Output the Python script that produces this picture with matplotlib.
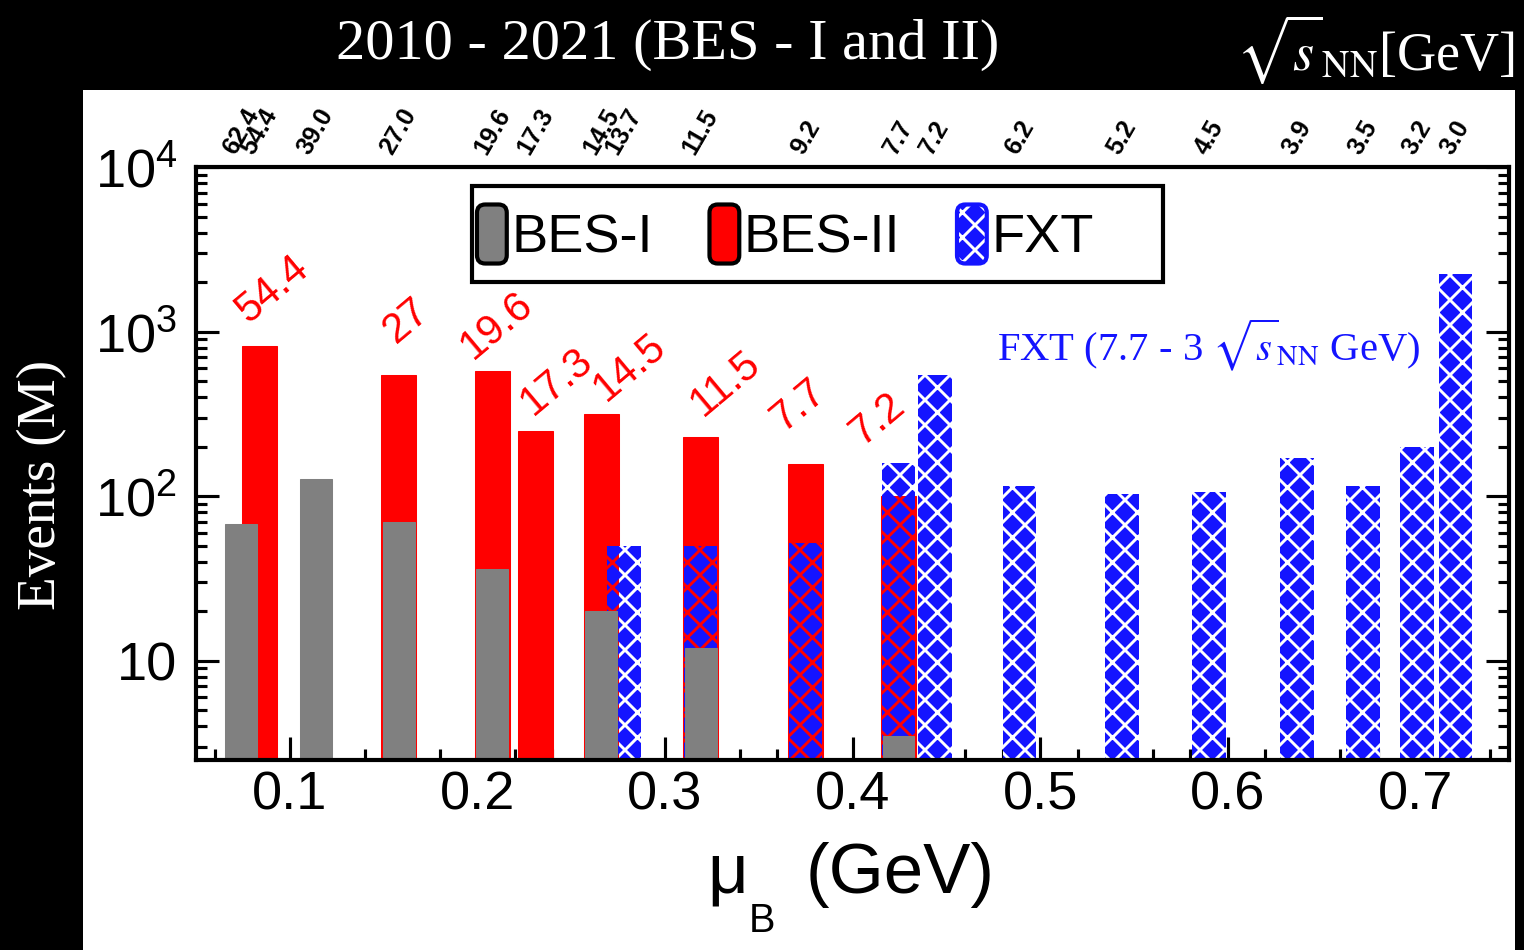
import numpy as np
import matplotlib
matplotlib.use("Agg")
import matplotlib.pyplot as plt
from matplotlib.patches import Rectangle, Patch, FancyBboxPatch
from matplotlib.legend_handler import HandlerTuple, HandlerPatch
from matplotlib.ticker import FixedLocator, LogLocator, NullFormatter

# collision energies (top axis) and the matching baryon chemical potential
energies = ["62.4", "54.4", "39.0", "27.0", "19.6", "17.3", "14.5", "13.7",
            "11.5", "9.2", "7.7", "7.2", "6.2", "5.2", "4.5", "3.9", "3.5",
            "3.2", "3.0"]
mu_b = [0.074, 0.084, 0.114, 0.158, 0.208, 0.231, 0.266, 0.278, 0.319,
        0.375, 0.4245, 0.444, 0.489, 0.5435, 0.590, 0.637, 0.672, 0.701,
        0.7215]

nan = np.nan
# events in millions
bes1 = [68, nan, 128, 70, 36, nan, 20, nan, 12, nan, 3.5,
        nan, nan, nan, nan, nan, nan, nan, nan]
bes2 = [nan, 822, nan, 548, 573, 248, 318, nan, 228, 158, 100,
        nan, nan, nan, nan, nan, nan, nan, nan]
fxt = [nan, nan, nan, nan, nan, nan, nan, 50, 50, 52, 160,
       548, 115, 103, 106, 170, 115, 198, 2240]

# red energy labels: (text, index of the bar they sit above, offset in pt)
red_labels = [("54.4", 1, (6, 27)), ("27", 3, (4, 26)), ("19.6", 4, (2, 22)),
              ("17.3", 5, (10, 24)), ("14.5", 6, (14, 22)),
              ("11.5", 8, (12, 26)), ("7.7", 9, (-3, 28)),
              ("7.2", 10, (-10, 21))]

GREY = "#808080"
RED = "#ff0000"
BLUE = "#1414ff"
YMIN, YMAX = 2.5, 1e4

plt.rcParams["font.family"] = "Liberation Sans"
plt.rcParams["mathtext.fontset"] = "stix"
plt.rcParams["hatch.linewidth"] = 1.4

DPI = 150
W, H = 1524, 950
fig = plt.figure(figsize=(W / DPI, H / DPI), dpi=DPI, facecolor="black")
fig.patches.append(Rectangle((83 / W, 0), (1515 - 83) / W, (H - 90) / H,
                             transform=fig.transFigure, facecolor="white",
                             edgecolor="none", zorder=-10))

ax = fig.add_axes([196 / W, 190 / H, 1313 / W, 593 / H])
ax.set_facecolor("white")

mu = np.array(mu_b)
b1 = np.array(bes1, dtype=float)
b2 = np.array(bes2, dtype=float)
fx = np.array(fxt, dtype=float)
m1, m2, mf = ~np.isnan(b1), ~np.isnan(b2), ~np.isnan(fx)

# BES-II collider bars
red_bars = ax.bar(mu[m2], b2[m2] - YMIN, width=0.0186, bottom=YMIN, color=RED,
                  edgecolor=RED, linewidth=0.5, zorder=2)

# FXT bars: blue diamonds with white lines on white background
fxt_bars = ax.bar(mu[mf], fx[mf] - YMIN, width=0.018, bottom=YMIN,
                  facecolor=BLUE, edgecolor="white", hatch="xx",
                  linewidth=0, zorder=3)

# where FXT sits on top of a red bar the lines show red
for fb in fxt_bars:
    x0, x1 = fb.get_x(), fb.get_x() + fb.get_width()
    for rb in red_bars:
        if rb.get_x() < x1 and rb.get_x() + rb.get_width() > x0:
            over = ax.bar(fb.get_x(), fb.get_height(), width=fb.get_width(),
                          bottom=YMIN, align="edge", facecolor=BLUE,
                          edgecolor=RED, hatch="xx", linewidth=0, zorder=3.5)
            over[0].set_clip_path(rb)

# BES-I bars in front
ax.bar(mu[m1], b1[m1] - YMIN, width=0.017, bottom=YMIN, color=GREY,
       edgecolor=GREY, linewidth=0.5, zorder=4)

tops = np.fmax(np.fmax(np.nan_to_num(b1), np.nan_to_num(b2)), np.nan_to_num(fx))
for text, i, off in red_labels:
    ax.annotate(text, xy=(mu[i], tops[i]), xytext=off,
                textcoords="offset points", rotation=40, color=RED,
                fontsize=20, ha="center", va="center", zorder=5)

ax.set_yscale("log")
ax.set_ylim(YMIN, YMAX)
ax.set_xlim(0.05, 0.75)

ax.yaxis.set_major_locator(FixedLocator([10, 100, 1000, 10000]))
ax.set_yticklabels(["10", r"$\mathregular{10^{2}}$", r"$\mathregular{10^{3}}$",
                    r"$\mathregular{10^{4}}$"])
ax.yaxis.set_minor_locator(LogLocator(base=10, subs=np.arange(2, 10)))
ax.yaxis.set_minor_formatter(NullFormatter())
ax.set_xticks(np.arange(0.1, 0.71, 0.1))
ax.set_xticklabels(["0.1", "0.2", "0.3", "0.4", "0.5", "0.6", "0.7"])
ax.set_xticks(np.arange(0.06, 0.75, 0.02), minor=True)

ax.tick_params(axis="both", which="major", direction="in", length=11,
               width=1.5, labelsize=26)
ax.tick_params(axis="both", which="minor", direction="in", length=5.5,
               width=1.5)
ax.tick_params(axis="y", which="both", left=True, right=True, pad=9)
ax.tick_params(axis="x", which="both", top=False, pad=5)
ax.set_axisbelow(True)
for sp in ax.spines.values():
    sp.set_linewidth(2)
    sp.set_zorder(6)

# top axis with sqrt(s_NN) labels
sec = ax.secondary_xaxis("top")
sec.set_xticks(mu, labels=energies)
sec.tick_params(length=0, pad=4, labelsize=12, rotation=60)
for lbl in sec.get_xticklabels():
    lbl.set_fontweight("bold")
sec.spines["top"].set_visible(False)


# legend with rounded swatches, frame drawn as a separate box
def rounded_swatch(legend, orig_handle, xdescent, ydescent, width, height,
                   fontsize):
    return FancyBboxPatch((-xdescent, -ydescent), width, height,
                          boxstyle="round,pad=0,rounding_size=4")


ax.add_patch(Rectangle((0.21, 0.806), 0.5265, 0.162, transform=ax.transAxes,
                       facecolor="white", edgecolor="black", linewidth=2,
                       zorder=6.5))
h_fxt = (Patch(facecolor=BLUE, edgecolor="white", hatch="xx", linewidth=0),
         Patch(facecolor="none", edgecolor=BLUE, linewidth=2))
handles = [Patch(facecolor=GREY, edgecolor="black", linewidth=2),
           Patch(facecolor=RED, edgecolor="black", linewidth=2), h_fxt]
leg = ax.legend(handles, ["BES-I", "BES-II", "FXT"], ncol=3,
                loc="center left", bbox_to_anchor=(0.214, 0.887),
                borderaxespad=0, borderpad=0, fontsize=26, handlelength=0.55,
                handleheight=1.3, handletextpad=0.08, columnspacing=1.05,
                frameon=False,
                handler_map={tuple: HandlerTuple(ndivide=1),
                             Patch: HandlerPatch(patch_func=rounded_swatch)})
leg.set_zorder(7)

ax.text(0.771, 0.70, r"FXT (7.7 - 3 $\sqrt{s}_{\mathrm{NN}}$ GeV)",
        transform=ax.transAxes, color=BLUE, family="Liberation Serif",
        fontsize=19.5, ha="center", va="center", zorder=7)

# outer texts on the black frame
fig.text(668 / W, 1 - 45 / H, "2010 - 2021 (BES - I and II)", color="white",
         family="Liberation Serif", fontsize=28, ha="center", va="center")
fig.text(1515 / W, 1 - 50 / H, r"$\sqrt{s}_{\mathrm{NN}}$[GeV]", color="white",
         family="Liberation Serif", fontsize=26, ha="right", va="center")
fig.text(42 / W, 1 - 485 / H, "Events (M)", color="white", rotation=90,
         family="Liberation Serif", fontsize=26.5, ha="center", va="center")

# x-axis title: mu with a low subscript B
fig.text(748 / W, 1 - 893 / H, "μ", fontsize=34, ha="right", va="baseline")
fig.text(749 / W, 1 - 932 / H, "B", fontsize=19, ha="left", va="baseline")
fig.text(806 / W, 1 - 893 / H, "(GeV)", fontsize=34, ha="left",
         va="baseline")

fig.savefig("out.png", dpi=DPI, facecolor="black")
